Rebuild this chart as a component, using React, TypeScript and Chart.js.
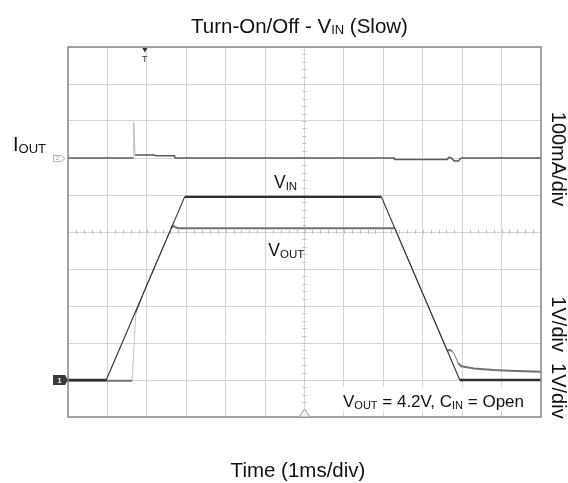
import { useEffect, useRef } from 'react';
import { Chart, registerables } from 'chart.js';

Chart.register(...registerables);

const W = 568;
const H = 483;
const FONT = '"Liberation Sans", Arial, Helvetica, sans-serif';

// Time in ms (1 ms/div, 12 divisions)
const TIME_VIN = [0, 0.97, 2.96, 7.95, 9.94, 12];
const VIN = [0, 0, 4.95, 4.95, 0, 0];

const TIME_VOUT = [0, 1.63, 1.72, 1.9, 2.3, 2.62, 2.66, 2.72, 2.8, 8.29, 9.0, 9.62, 9.66, 9.74, 9.8, 9.9, 9.98, 10.3, 10.8, 11.2, 12];
const VOUT = [-0.02, -0.02, 1.8, 2.31, 3.31, 4.1, 4.17, 4.13, 4.1, 4.1, 2.34, 0.8, 0.81, 0.79, 0.7, 0.45, 0.37, 0.31, 0.27, 0.25, 0.22];

// Output current in mA (100 mA/div)
const TIME_IOUT = [0, 1.66, 1.67, 1.7, 2.2, 2.22, 2.7, 2.72, 8.27, 8.29, 9.62, 9.66, 9.72, 9.8, 9.9, 9.98, 12];
const IOUT = [0, 0, 96, 8, 8, 6, 6, 0, 0, -4, -4, 2, 1, -8, -8, 0, 0];

const TRIGGER_MS = 1.95;

type Run = { t: string; size: number; dy: number };

function drawRuns(ctx: CanvasRenderingContext2D, x: number, y: number, runs: Run[], align: 'left' | 'center' = 'left') {
  let total = 0;
  for (const r of runs) {
    ctx.font = `${r.size}px ${FONT}`;
    total += ctx.measureText(r.t).width;
  }
  let cx = align === 'center' ? x - total / 2 : x;
  ctx.textAlign = 'left';
  ctx.textBaseline = 'alphabetic';
  for (const r of runs) {
    ctx.font = `${r.size}px ${FONT}`;
    ctx.fillText(r.t, cx, y + r.dy);
    cx += ctx.measureText(r.t).width;
  }
}

const steep = (c: any, ratio: number) => {
  const dx = Math.abs(c.p1.x - c.p0.x);
  const dy = Math.abs(c.p1.y - c.p0.y);
  return dy > dx * ratio && dy > 3;
};

const scopePlugin = {
  id: 'scope',
  beforeDatasetsDraw(chart: any) {
    const { ctx, scales } = chart;
    const xs = scales.x;
    const ys = scales.y;
    const cx = xs.getPixelForValue(6);
    const cy = ys.getPixelForValue(4);
    ctx.save();
    ctx.strokeStyle = '#bdbdbd';
    ctx.lineWidth = 1;
    ctx.beginPath();
    for (let v = 0; v <= 12.001; v += 0.2) {
      const px = Math.round(xs.getPixelForValue(v)) + 0.5;
      ctx.moveTo(px, cy - 2);
      ctx.lineTo(px, cy + 2);
    }
    for (let v = -1; v <= 9.001; v += 0.2) {
      const py = Math.round(ys.getPixelForValue(v)) + 0.5;
      ctx.moveTo(cx - 2, py);
      ctx.lineTo(cx + 2, py);
    }
    ctx.stroke();
    ctx.restore();
  },
  afterDatasetsDraw(chart: any) {
    const { ctx, chartArea: a, scales } = chart;
    const xs = scales.x;
    const ys = scales.y;
    const y1 = scales.y1;
    ctx.save();

    // frame
    ctx.strokeStyle = '#8a8a8a';
    ctx.lineWidth = 1.5;
    ctx.strokeRect(a.left, a.top, a.right - a.left, a.bottom - a.top);

    ctx.fillStyle = '#111';
    // title
    drawRuns(ctx, 299.5, 32.7, [
      { t: 'Turn-On/Off - V', size: 20.5, dy: 0 },
      { t: 'IN', size: 13, dy: 1.7 },
      { t: ' (Slow)', size: 20.5, dy: 0 },
    ], 'center');

    // x axis label
    drawRuns(ctx, 298, 477, [{ t: 'Time (1ms/div)', size: 20.5, dy: 0 }], 'center');

    // I_OUT label
    drawRuns(ctx, 13, 150.7, [
      { t: 'I', size: 20, dy: 0 },
      { t: 'OUT', size: 13, dy: 2 },
    ]);

    // V_IN label
    drawRuns(ctx, 274, 187.7, [
      { t: 'V', size: 17.5, dy: 0 },
      { t: 'IN', size: 11.5, dy: 1.8 },
    ]);
    // V_OUT label
    drawRuns(ctx, 268.3, 256, [
      { t: 'V', size: 17.5, dy: 0 },
      { t: 'OUT', size: 11.5, dy: 1.8 },
    ]);

    // condition box
    ctx.fillStyle = '#ffffff';
    ctx.fillRect(338, 387, a.right - 1 - 338, 24);
    ctx.fillStyle = '#111';
    drawRuns(ctx, 343, 406.7, [
      { t: 'V', size: 17, dy: 0 },
      { t: 'OUT', size: 11, dy: 1.8 },
      { t: ' = 4.2V, C', size: 17, dy: 0 },
      { t: 'IN', size: 11, dy: 1.8 },
      { t: ' = Open', size: 17, dy: 0 },
    ]);

    // right rotated labels
    ctx.font = `20px ${FONT}`;
    ctx.textAlign = 'center';
    ctx.textBaseline = 'middle';
    ctx.save();
    ctx.translate(557.5, 159);
    ctx.rotate(Math.PI / 2);
    ctx.fillText('100mA/div', 0, 0);
    ctx.restore();
    ctx.save();
    ctx.translate(557.5, 357.5);
    ctx.rotate(Math.PI / 2);
    ctx.fillText('1V/div  1V/div', 0, 0);
    ctx.restore();

    // trigger marker (top)
    const tx = xs.getPixelForValue(TRIGGER_MS);
    ctx.fillStyle = '#333';
    ctx.beginPath();
    ctx.moveTo(tx - 2.5, a.top + 1);
    ctx.lineTo(tx + 2.5, a.top + 1);
    ctx.lineTo(tx, a.top + 5.5);
    ctx.closePath();
    ctx.fill();
    ctx.font = `9px ${FONT}`;
    ctx.textAlign = 'center';
    ctx.textBaseline = 'alphabetic';
    ctx.fillText('T', tx, a.top + 15);

    // center marker (bottom)
    const bx = xs.getPixelForValue(6);
    ctx.beginPath();
    ctx.moveTo(bx - 5.5, a.bottom);
    ctx.lineTo(bx + 5.5, a.bottom);
    ctx.lineTo(bx, a.bottom - 8);
    ctx.closePath();
    ctx.fillStyle = '#f2f2f2';
    ctx.fill();
    ctx.strokeStyle = '#9a9a9a';
    ctx.lineWidth = 1;
    ctx.stroke();

    // channel 1 ground badge
    const g1 = ys.getPixelForValue(0);
    ctx.fillStyle = '#3a3a3a';
    ctx.beginPath();
    ctx.moveTo(53, g1 - 5);
    ctx.lineTo(65, g1 - 5);
    ctx.lineTo(68, g1);
    ctx.lineTo(65, g1 + 5);
    ctx.lineTo(53, g1 + 5);
    ctx.closePath();
    ctx.fill();
    ctx.fillStyle = '#eee';
    ctx.font = `bold 8px ${FONT}`;
    ctx.textAlign = 'center';
    ctx.textBaseline = 'middle';
    ctx.fillText('1', 59.5, g1 + 0.5);

    // channel 2 (current) marker
    const g2 = y1.getPixelForValue(0);
    ctx.strokeStyle = '#b4b4b4';
    ctx.lineWidth = 1;
    ctx.beginPath();
    ctx.moveTo(53.5, g2 - 2.5);
    ctx.lineTo(61, g2 - 2.5);
    ctx.lineTo(65, g2 + 0.5);
    ctx.lineTo(61, g2 + 3.5);
    ctx.lineTo(53.5, g2 + 3.5);
    ctx.closePath();
    ctx.stroke();
    ctx.fillStyle = '#aaa';
    ctx.font = `6px ${FONT}`;
    ctx.fillText('2', 57.5, g2 + 0.7);

    ctx.restore();
  },
};

export default function App() {
  const ref = useRef<HTMLCanvasElement>(null);
  useEffect(() => {
    if (!ref.current) return;
    const pts = (xs: number[], ys: number[]) => xs.map((x, i) => ({ x, y: ys[i] }));
    const gridCfg = { color: '#d4d4d4', lineWidth: 1, drawTicks: false };
    const chart = new Chart(ref.current, {
      type: 'line',
      data: {
        datasets: [
          {
            label: 'VIN',
            data: pts(TIME_VIN, VIN),
            borderColor: '#2e2e2e',
            borderWidth: 2.2,
            pointRadius: 0,
            tension: 0,
            yAxisID: 'y',
            segment: {
              borderWidth: (c: any) => (steep(c, 0.5) ? 1.1 : 2.4),
            },
          },
          {
            label: 'VOUT',
            data: pts(TIME_VOUT, VOUT),
            borderColor: '#727272',
            borderWidth: 2,
            pointRadius: 0,
            tension: 0,
            yAxisID: 'y',
            segment: {
              borderWidth: (c: any) => (steep(c, 0.5) ? 1 : 2),
              borderColor: (c: any) => (steep(c, 4) ? '#c4c4c4' : '#727272'),
            },
          },
          {
            label: 'IOUT',
            data: pts(TIME_IOUT, IOUT),
            borderColor: '#5a5a5a',
            borderWidth: 1.6,
            pointRadius: 0,
            tension: 0,
            yAxisID: 'y1',
            segment: {
              borderWidth: (c: any) => (steep(c, 4) ? 1 : 1.6),
              borderColor: (c: any) => (steep(c, 4) ? '#b8b8b8' : '#5a5a5a'),
            },
          },
        ],
      },
      options: {
        responsive: false,
        devicePixelRatio: 1,
        animation: false,
        events: [],
        layout: { padding: { left: 68, top: 47, right: 27, bottom: 66 } },
        plugins: {
          legend: { display: false },
          tooltip: { enabled: false },
          title: { display: false },
        },
        scales: {
          x: {
            type: 'linear',
            min: 0,
            max: 12,
            ticks: { stepSize: 1, display: false },
            grid: gridCfg,
            border: { display: false },
          },
          y: {
            type: 'linear',
            min: -1,
            max: 9,
            ticks: { stepSize: 1, display: false },
            grid: gridCfg,
            border: { display: false },
          },
          y1: {
            type: 'linear',
            display: false,
            min: -700,
            max: 300,
          },
        },
      },
      plugins: [scopePlugin],
    } as any);
    return () => chart.destroy();
  }, []);
  return (
    <div style={{ position: 'absolute', left: 0, top: 0, width: W, height: H, background: '#fff' }}>
      <canvas ref={ref} width={W} height={H} style={{ width: W, height: H, display: 'block' }} />
    </div>
  );
}
